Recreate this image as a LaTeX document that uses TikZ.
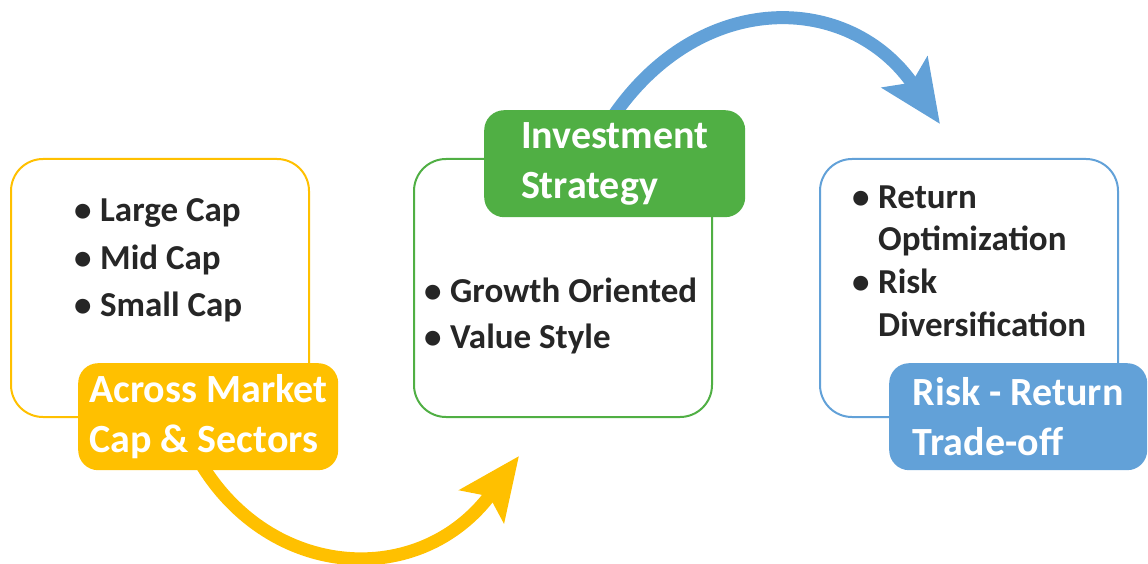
\documentclass[tikz,border=0pt]{standalone}
\usepackage{fontspec}
\setmainfont{Carlito}
\usetikzlibrary{arrows.meta}
\definecolor{myyellow}{HTML}{FFC000}
\definecolor{mygreen}{HTML}{50AF44}
\definecolor{myblue}{HTML}{62A1D8}
\definecolor{mytext}{HTML}{262626}
\begin{document}
\begin{tikzpicture}[x=1pt,y=-1pt,
  card/.style={line width=2pt, rounded corners=32pt, anchor=north west, inner sep=0pt, minimum width=298pt, minimum height=258pt},
  tagbox/.style={rounded corners=20pt, anchor=north west, inner sep=0pt, minimum height=107pt, text=white, font=\fontsize{40}{50}\selectfont\bfseries, align=left},
  bullettext/.style={anchor=base west, inner sep=0pt, text=mytext, font=\fontsize{35}{43}\selectfont\bfseries},
  flowarrow/.style={line width=13pt, -{Stealth[length=62pt,width=54pt,inset=12pt]}}]
\useasboundingbox (0,0) rectangle (1148,564);

% arrows (drawn first, under the tags)
\coordinate (ys) at (200,462);
\coordinate (yt) at (519,456);
\draw[flowarrow, myyellow] (ys) .. controls (270,580) and (420,590) .. (yt);
\coordinate (bs) at (612,118);
\coordinate (bt) at (940,124);
\draw[flowarrow, myblue] (bs) .. controls (700,-12) and (850,-8) .. (bt);

% cards
\node[card, draw=myyellow] (c1) at (10,158) {};
\node[card, draw=mygreen] (c2) at (413,158) {};
\node[card, draw=myblue] (c3) at (819,158) {};

% tags
\node[tagbox, fill=myyellow, minimum width=260pt] (t1) at (78,363) {Across Market\\Cap \& Sectors};
\node[tagbox, fill=mygreen, minimum width=261pt] (t2) at (484,110) {Investment\\Strategy};
\node[tagbox, fill=myblue, minimum width=258pt] (t3) at (889,363) {Risk - Return\\Trade-off};

% card 1 items
\node[bullettext] (l1) at (74,222) {\makebox[26pt][l]{\textbullet}Large Cap};
\node[bullettext] (l2) at (74,269) {\makebox[26pt][l]{\textbullet}Mid Cap};
\node[bullettext] (l3) at (74,316) {\makebox[26pt][l]{\textbullet}Small Cap};
% card 2 items
\node[bullettext] (g1) at (424,302) {\makebox[26pt][l]{\textbullet}Growth Oriented};
\node[bullettext] (g2) at (424,348) {\makebox[26pt][l]{\textbullet}Value Style};
% card 3 items
\node[bullettext] (r1) at (852,208) {\makebox[26pt][l]{\textbullet}Return};
\node[bullettext] (r2) at (878,250) {Optimization};
\node[bullettext] (r3) at (852,293) {\makebox[26pt][l]{\textbullet}Risk};
\node[bullettext] (r4) at (878,336) {Diversification};
\end{tikzpicture}
\end{document}
